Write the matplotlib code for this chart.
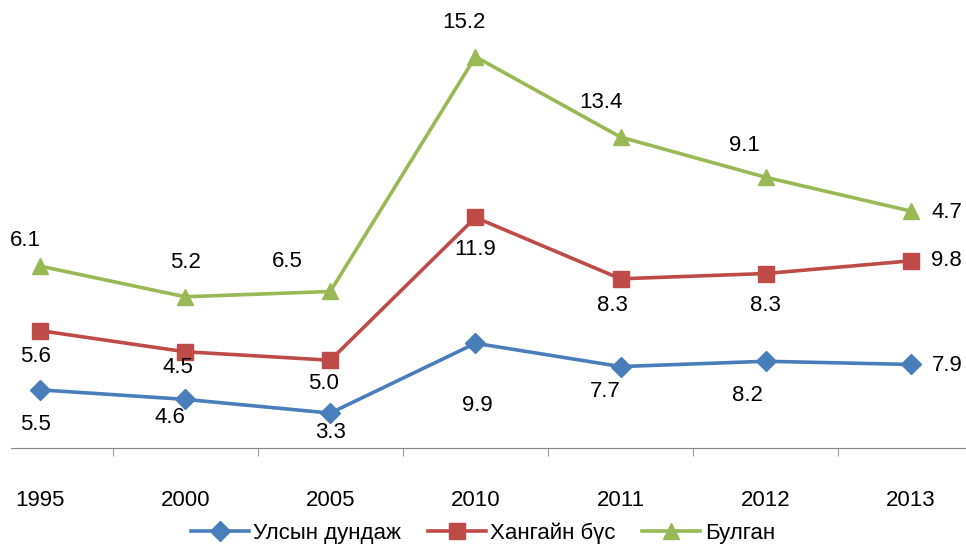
import numpy as np
import matplotlib.pyplot as plt

# données
years = ["1995", "2000", "2005", "2010", "2011", "2012", "2013"]
uls = [5.5, 4.6, 3.3, 9.9, 7.7, 8.2, 7.9]
khangai = [5.6, 4.5, 5.0, 11.9, 8.3, 8.3, 9.8]
bulgan = [6.1, 5.2, 6.5, 15.2, 13.4, 9.1, 4.7]
names = ["Улсын дундаж", "Хангайн бүс", "Булган"]

# style
colors = ["#4A7EBB", "#BE4B48", "#98B954"]
markers = ["D", "s", "^"]
msizes = [10, 11, 12]
# décalage des étiquettes (pixels)
offsets = [
    [(-5, -35), (-15, -18), (0, -19), (2, -62), (-15, -25), (-18, -34), (36, -1)],
    [(-5, -26), (-7, -16), (-7, -23), (0, -32), (-8, -27), (0, -32), (36, 0)],
    [(-15, 26), (0, 34), (-43, 30), (-12, 34), (-20, 35), (-21, 32), (36, -1)],
]

plt.rcParams['font.family'] = ['Liberation Sans', 'DejaVu Sans']

fig = plt.figure(figsize=(9.66, 5.46), dpi=100)
ax = fig.add_axes([11 / 966, 98 / 546, 955 / 966, 423 / 546])

x = np.arange(len(years))
series = [uls, khangai, bulgan]
cum = np.cumsum(np.array(series), axis=0)  # graphique empilé

for i, s in enumerate(series):
    ax.plot(x, cum[i], color=colors[i], lw=2.6, marker=markers[i],
            ms=msizes[i], label=names[i])
    for j, v in enumerate(s):
        ax.annotate(f"{v:.1f}", (x[j], cum[i][j]), xytext=offsets[i][j],
                    textcoords="offset pixels", ha="center", va="center",
                    fontsize=16)

ax.set_xlim(-0.2, 6.38)
ax.set_ylim(0, 40)
for side in ["top", "right", "left"]:
    ax.spines[side].set_visible(False)
ax.spines["bottom"].set_color("#868686")
ax.set_yticks([])
ax.set_xticks(x)
ax.set_xticklabels(years, fontsize=16)
ax.tick_params(axis="x", which="major", length=0, pad=30)
ax.set_xticks(x[:-1] + 0.5, minor=True)
ax.tick_params(axis="x", which="minor", length=6, color="#868686")

fig.legend(loc="center", bbox_to_anchor=(0.5, 13 / 546), ncol=3,
           frameon=False, fontsize=16, handlelength=2.6, columnspacing=1.2,
           handletextpad=0.2)

fig.savefig("out.png", dpi=100)
